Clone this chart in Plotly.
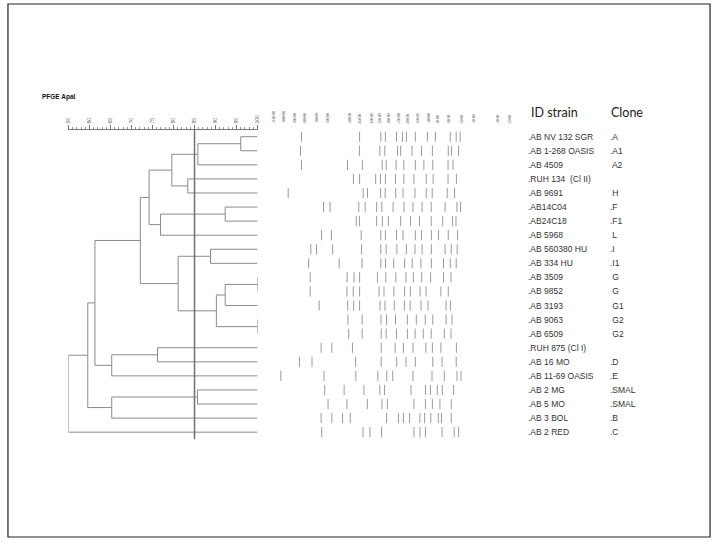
import plotly.graph_objects as go

W, H = 719, 543

strains = [".AB NV 132 SGR", ".AB 1-268 OASIS", ".AB 4509", ".RUH 134  (Cl II)", ".AB 9691",
           ".AB14C04", ".AB24C18", ".AB 5968", ".AB 560380 HU", ".AB 334 HU", ".AB 3509",
           ".AB 9852", ".AB 3193", ".AB 9063", ".AB 6509", ".RUH 875 (Cl I)", ".AB 16 MO",
           ".AB 11-69 OASIS", ".AB 2 MG", ".AB 5 MO", ".AB 3 BOL", ".AB 2 RED"]
clones = [".A", ".A1", " A2", "", " H", ".F", ".F1", " L", ".I", ".I1", " G", " G", " G1",
          " G2", " G2", "", ".D", ".E", ".SMAL", ".SMAL", ".B", ".C"]

# UPGMA merges: (child a, child b, similarity %); leaves 0..21, new nodes numbered from 22
merges = [(0, 1, 96.0), (22, 2, 85.8), (3, 4, 83.4), (23, 24, 79.6), (5, 6, 92.3),
          (26, 7, 76.9), (25, 27, 74.2), (8, 9, 88.8), (10, 11, 100.0), (30, 12, 92.3),
          (13, 14, 100.0), (31, 32, 90.2), (29, 33, 81.1), (28, 34, 72.1), (15, 16, 76.2),
          (36, 17, 65.3), (35, 37, 61.3), (18, 19, 85.7), (39, 20, 65.3), (38, 40, 59.6),
          (41, 21, 55.0)]
cutoff = 85

# band positions, % of lane length
bands = [
    [14.5, 43.8, 54.5, 56.8, 62.4, 65.4, 67.4, 71.9, 78.0, 82.0, 89.5, 92.5, 94.5],
    [14.0, 43.7, 54.0, 56.5, 62.9, 64.5, 70.2, 75.0, 80.5, 88.5, 90.2, 93.7],
    [14.5, 37.7, 45.2, 55.2, 57.2, 62.2, 66.1, 71.9, 76.2, 80.7, 88.4, 90.9],
    [40.7, 43.8, 51.9, 54.3, 56.8, 61.9, 66.1, 71.2, 77.4, 80.9, 88.4, 92.6],
    [7.8, 45.6, 47.8, 54.4, 56.7, 62.0, 65.7, 71.7, 77.4, 80.4, 88.0, 91.7],
    [25.6, 28.9, 43.4, 46.6, 52.4, 55.0, 60.7, 66.2, 70.7, 75.3, 79.9, 86.9, 92.9, 94.7],
    [42.1, 43.7, 52.4, 55.3, 58.3, 64.5, 69.5, 74.0, 79.9, 85.7, 90.7, 92.4],
    [24.6, 29.6, 44.6, 54.5, 56.8, 62.4, 65.7, 71.9, 75.0, 80.0, 83.6, 88.5, 93.2],
    [19.2, 22.1, 30.2, 44.8, 54.5, 57.2, 62.6, 67.4, 71.7, 75.3, 80.0, 86.9, 90.0, 93.0],
    [18.1, 33.5, 45.0, 54.5, 56.9, 61.0, 66.5, 70.3, 74.7, 80.0, 86.1, 89.5, 92.5],
    [18.9, 37.5, 41.0, 43.8, 52.8, 57.0, 62.1, 67.2, 70.9, 75.1, 79.6, 86.1, 89.9],
    [18.9, 37.4, 40.6, 43.8, 53.6, 56.1, 61.1, 66.5, 69.4, 74.3, 77.3, 84.8, 88.5],
    [23.4, 37.8, 40.8, 43.8, 54.1, 56.6, 61.3, 66.4, 69.3, 74.8, 78.3, 87.4, 89.6],
    [37.9, 45.1, 54.6, 57.4, 61.9, 67.9, 72.4, 76.9, 80.7, 87.4, 90.4],
    [38.3, 45.1, 54.7, 57.2, 62.4, 67.9, 71.8, 75.9, 79.9, 86.5, 89.9],
    [24.4, 29.8, 40.2, 54.7, 61.7, 65.9, 70.7, 77.2, 80.5, 84.8, 92.6],
    [13.5, 19.8, 41.8, 54.7, 62.5, 67.2, 71.9, 80.7, 85.4, 92.5],
    [4.1, 25.9, 41.9, 53.0, 57.5, 60.5, 70.7, 80.3, 86.5, 92.9, 94.9],
    [26.2, 36.0, 46.0, 54.0, 56.4, 69.7, 77.0, 79.5, 83.0, 85.5, 91.2],
    [27.9, 37.4, 47.7, 55.1, 57.8, 71.2, 77.0, 80.5, 84.3, 90.0],
    [24.4, 29.8, 35.2, 39.1, 57.4, 63.4, 65.9, 69.0, 74.2, 76.6, 79.7, 83.5, 85.1, 90.0],
    [24.7, 45.5, 49.0, 54.9, 71.2, 74.3, 77.0, 85.4, 91.5, 93.7],
]

marker_pos = [0.7, 5.7, 11.5, 16.5, 22.4, 28.2, 39.0, 44.5, 50.4, 54.5, 59.0, 64.0, 68.7,
              73.7, 79.0, 83.7, 89.0, 95.7, 101.5, 113.7, 119.9]
marker_lbl = ["-1100.00", "-1000.00", "-900.00", "-800.00", "-700.00", "-600.00", "-500.00",
              "-450.00", "-400.00", "-350.00", "-300.00", "-250.00", "-200.00", "-150.00",
              "-100.00", "-90.00", "-80.00", "-60.00", "-50.00", "-20.00", "-10.00"]

sim_ticks = list(range(55, 101, 5))

# ---- dendrogram geometry
n = len(strains)
nx = {i: 100.0 for i in range(n)}
ny = {i: float(i) for i in range(n)}
dx, dy = [], []
for k, (a, b, s) in enumerate(merges):
    node = n + k
    nx[node] = s
    ny[node] = (ny[a] + ny[b]) / 2
    for c in (a, b):
        dx += [nx[c], s, None]
        dy += [ny[c], ny[c], None]
    dx += [s, s, None]
    dy += [ny[a], ny[b], None]

bx, by = [], []
for i, row in enumerate(bands):
    for p in row:
        bx += [p, p, None]
        by += [i - 0.36, i + 0.36, None]

fig = go.Figure()
fig.add_trace(go.Scatter(x=dx, y=dy, mode="lines", line=dict(color="#8a8a8a", width=1),
                         hoverinfo="skip"))
fig.add_trace(go.Scatter(x=[cutoff, cutoff], y=[-0.55, 21.5], mode="lines",
                         line=dict(color="#707070", width=1.5), hoverinfo="skip"))
fig.add_trace(go.Scatter(x=bx, y=by, xaxis="x2", mode="lines",
                         line=dict(color="#9a9a9a", width=1), hoverinfo="skip"))


def px(v):
    return v / W


def py(v):
    return 1 - v / H


fig.update_layout(
    width=W, height=H, margin=dict(l=0, r=0, t=0, b=0),
    paper_bgcolor="white", plot_bgcolor="white", showlegend=False,
    font=dict(family="Liberation Sans, Arial, sans-serif", color="#333"),
    xaxis=dict(domain=[px(66), px(256.7)], range=[55, 100], anchor="free", side="top",
               position=py(128.5), showgrid=False, zeroline=False, showline=True,
               linecolor="#777", linewidth=1, tickvals=sim_ticks, ticks="outside",
               ticklen=4, tickcolor="#777", tickangle=-90,
               tickfont=dict(size=5, color="#666"),
               minor=dict(dtick=1, ticks="outside", ticklen=2, tickcolor="#999")),
    xaxis2=dict(domain=[px(272), px(512)], range=[0, 120], anchor="y", visible=False),
    yaxis=dict(domain=[py(442), py(122)], range=[(442 - 136.7) / 14.07, (122 - 136.7) / 14.07],
               visible=False),
)

ann = []
for p, t in zip(marker_pos, marker_lbl):
    ann.append(dict(x=p, xref="x2", y=py(126), yref="paper", text=t, showarrow=False,
                    textangle=-90, xanchor="center", yanchor="bottom",
                    font=dict(size=3.2, color="#666")))
for i, s in enumerate(strains):
    ann.append(dict(x=px(527), xref="paper", y=i, yref="y", text=s, showarrow=False,
                    xanchor="left", yanchor="middle", font=dict(size=8.5, color="#333")))
    if clones[i]:
        ann.append(dict(x=px(610), xref="paper", y=i, yref="y", text=clones[i], showarrow=False,
                        xanchor="left", yanchor="middle", font=dict(size=8.5, color="#333")))
ann.append(dict(x=px(530), y=py(112), xref="paper", yref="paper", text="ID strain",
                showarrow=False, xanchor="left", yanchor="middle",
                font=dict(family="Lato, Open Sans, sans-serif", size=12.5, color="#222")))
ann.append(dict(x=px(611), y=py(112), xref="paper", yref="paper", text="Clone",
                showarrow=False, xanchor="left", yanchor="middle",
                font=dict(family="Lato, Open Sans, sans-serif", size=12.5, color="#222")))
ann.append(dict(x=px(37), y=py(97), xref="paper", yref="paper", text="<b>PFGE ApaI</b>",
                showarrow=False, xanchor="left", yanchor="middle",
                font=dict(size=6.5, color="#111")))
fig.update_layout(annotations=ann)

fig.add_shape(type="rect", xref="paper", yref="paper", x0=px(5), x1=px(713), y0=py(537),
              y1=py(4), line=dict(color="#222", width=1.2))

fig.write_html("out.html", config={"displayModeBar": False},
               post_script="document.body.style.margin='0';")
